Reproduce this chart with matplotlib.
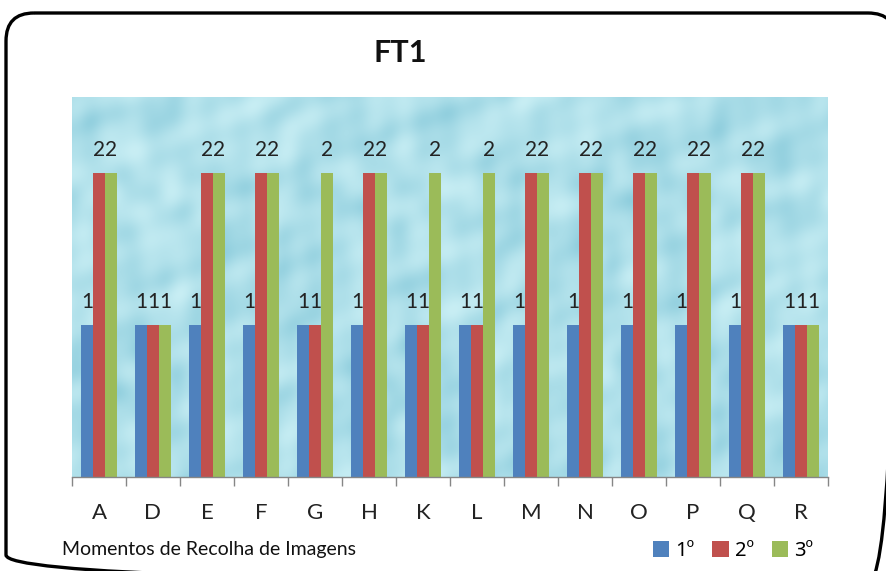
import numpy as np
import matplotlib
matplotlib.use("Agg")
import matplotlib.pyplot as plt
from matplotlib.patches import FancyBboxPatch, Patch

plt.rcParams['font.family'] = ['Lato', 'DejaVu Sans']

categories = ['A', 'D', 'E', 'F', 'G', 'H', 'K', 'L', 'M', 'N', 'O', 'P', 'Q', 'R']
serie_1 = [1, 1, 1, 1, 1, 1, 1, 1, 1, 1, 1, 1, 1, 1]
serie_2 = [2, 1, 2, 2, 1, 2, 1, 1, 2, 2, 2, 2, 2, 1]
serie_3 = [2, 1, 2, 2, 2, 2, 2, 2, 2, 2, 2, 2, 2, 1]
series_names = ['1º', '2º', '3º']
colors = ['#4F81BD', '#C0504D', '#9BBB59']

W, H = 886, 571
fig = plt.figure(figsize=(W / 100, H / 100), dpi=100)
fig.patch.set_facecolor('white')

# pixel-space overlay for the rounded chart frame
frame_ax = fig.add_axes([0, 0, 1, 1], zorder=5)
frame_ax.set_xlim(0, W)
frame_ax.set_ylim(H, 0)
frame_ax.axis('off')
frame_ax.patch.set_alpha(0)
frame_ax.add_patch(FancyBboxPatch((6, 13), 890, 570,
                                  boxstyle="round,pad=0,rounding_size=28",
                                  facecolor='none', edgecolor='black', linewidth=2.4))

ax = fig.add_axes([72 / W, (H - 477) / H, 756 / W, 380 / H])

# water-drop style texture for the plot area
ny, nx = 380, 756
yy, xx = np.mgrid[0:ny, 0:nx].astype(float)
tex = (np.sin(xx / 23.0 + np.sin(yy / 31.0) * 2.1) * np.cos(yy / 19.0 + np.cos(xx / 41.0) * 1.7)
       + 0.6 * np.sin((xx + yy) / 13.0 + np.sin(xx / 17.0)) * np.cos((xx - yy) / 29.0)
       + 0.4 * np.sin(xx / 7.0 + yy / 11.0) * np.sin(yy / 9.0 - xx / 15.0))
tex = (tex - tex.min()) / (tex.max() - tex.min())
light = np.array([200, 238, 244]) / 255.0
dark = np.array([140, 204, 220]) / 255.0
img = dark[None, None, :] + (light - dark)[None, None, :] * tex[..., None] ** 0.8
ax.imshow(img, extent=[-0.5, len(categories) - 0.5, 0, 2.5], aspect='auto',
          zorder=0, interpolation='bilinear')

x = np.arange(len(categories))
bw = 0.222
for k, (vals, c) in enumerate(zip([serie_1, serie_2, serie_3], colors)):
    pos = x + (k - 1) * bw
    ax.bar(pos, vals, width=bw, color=c, zorder=2, linewidth=0)
    for px, v in zip(pos, vals):
        ax.annotate(f"{v}", (px, v), xytext=(0, 12.5), textcoords='offset points',
                    ha='center', va='baseline', fontsize=15, color='#222222', zorder=3)

ax.set_xlim(-0.5, len(categories) - 0.5)
ax.set_ylim(0, 2.5)
ax.set_yticks([])
ax.set_xticks(x)
ax.set_xticklabels(categories, fontsize=16, color='#222222')
ax.set_xticks(np.arange(-0.5, len(categories), 1.0), minor=True)
ax.tick_params(axis='x', which='major', length=0, pad=19)
ax.tick_params(axis='x', which='minor', length=6.5, width=1, color='#868686', direction='out')
for s in ['top', 'right', 'left']:
    ax.spines[s].set_visible(False)
ax.spines['bottom'].set_color('#868686')
ax.spines['bottom'].set_linewidth(1)

fig.text(400 / W, 1 - 53 / H, 'FT1', ha='center', va='center', fontsize=22,
         fontweight='bold', color='#111111')
fig.text(62 / W, 1 - 550 / H, 'Momentos de Recolha de Imagens', ha='left', va='center',
         fontsize=14, color='#111111')

handles = [Patch(facecolor=c, edgecolor='none') for c in colors]
fig.legend(handles, series_names, loc='center', bbox_to_anchor=(733 / W, 1 - 551 / H),
           ncol=3, frameon=False, handlelength=0.8, handleheight=0.8,
           handletextpad=0.3, columnspacing=0.9, borderpad=0,
           prop={'family': ['Noto Sans', 'DejaVu Sans'], 'size': 14.5})

fig.savefig('out.png', dpi=100, facecolor='white')
